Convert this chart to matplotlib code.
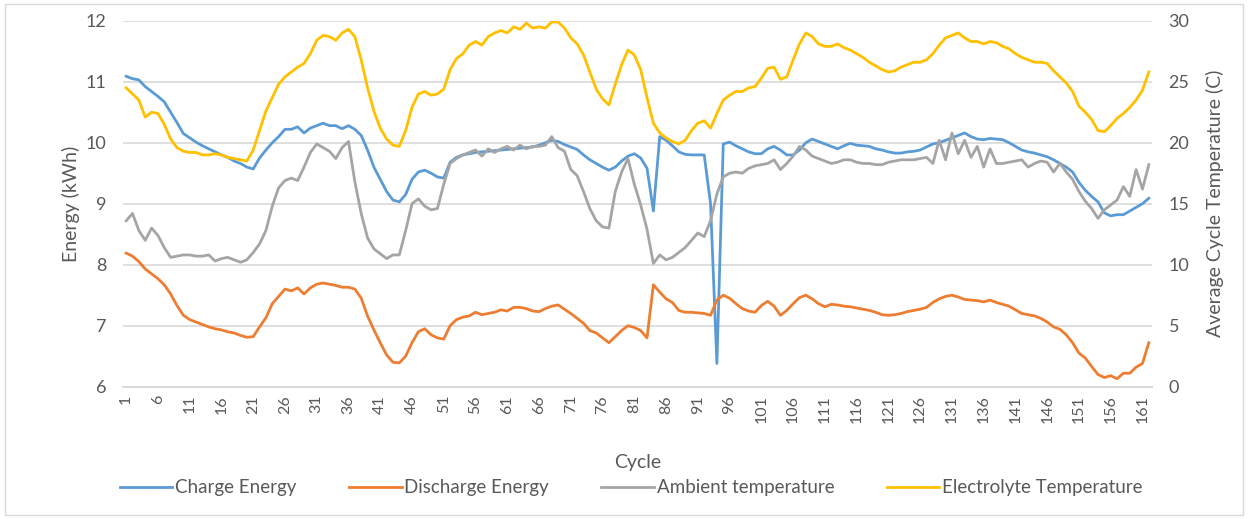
import numpy as np
import matplotlib
matplotlib.use("Agg")
from matplotlib import pyplot as plt
from matplotlib.patches import Rectangle

plt.rcParams['font.family'] = ['Lato', 'DejaVu Sans']

# per-cycle readings, cycles 1..162
charge_energy = [
    11.09, 11.05, 11.03, 10.92, 10.84, 10.76, 10.67, 10.50, 10.33, 10.15,
    10.08, 10.01, 9.95, 9.90, 9.85, 9.80, 9.76, 9.70, 9.66, 9.60,
    9.57, 9.75, 9.88, 10.00, 10.10, 10.22, 10.22, 10.26, 10.16, 10.24,
    10.28, 10.32, 10.28, 10.28, 10.23, 10.28, 10.22, 10.12, 9.88, 9.60,
    9.40, 9.20, 9.06, 9.03, 9.15, 9.40, 9.52, 9.55, 9.50, 9.44,
    9.42, 9.68, 9.76, 9.80, 9.82, 9.84, 9.85, 9.86, 9.87, 9.88,
    9.89, 9.90, 9.91, 9.92, 9.93, 9.96, 10.00, 10.04, 10.02, 9.97,
    9.93, 9.89, 9.80, 9.72, 9.66, 9.60, 9.55, 9.60, 9.70, 9.78,
    9.82, 9.75, 9.58, 8.88, 10.10, 10.04, 9.95, 9.85, 9.81, 9.80,
    9.80, 9.80, 9.00, 6.38, 9.98, 10.01, 9.95, 9.90, 9.85, 9.82,
    9.82, 9.90, 9.94, 9.88, 9.80, 9.80, 9.88, 10.00, 10.06, 10.02,
    9.98, 9.94, 9.90, 9.95, 9.99, 9.96, 9.95, 9.94, 9.90, 9.88,
    9.85, 9.83, 9.83, 9.85, 9.86, 9.88, 9.93, 9.98, 10.00, 10.04,
    10.08, 10.12, 10.16, 10.10, 10.06, 10.05, 10.07, 10.06, 10.05, 10.00,
    9.94, 9.88, 9.85, 9.83, 9.80, 9.77, 9.72, 9.66, 9.60, 9.52,
    9.35, 9.22, 9.12, 9.03, 8.85, 8.80, 8.82, 8.82, 8.88, 8.94,
    9.00, 9.09,
]

discharge_energy = [
    8.19, 8.14, 8.05, 7.93, 7.85, 7.77, 7.67, 7.52, 7.33, 7.17,
    7.10, 7.06, 7.02, 6.98, 6.95, 6.93, 6.90, 6.88, 6.84, 6.81,
    6.82, 6.98, 7.13, 7.36, 7.48, 7.60, 7.57, 7.62, 7.52, 7.62,
    7.68, 7.70, 7.68, 7.66, 7.63, 7.63, 7.60, 7.45, 7.16, 6.93,
    6.72, 6.52, 6.40, 6.39, 6.50, 6.72, 6.90, 6.95, 6.85, 6.80,
    6.78, 7.00, 7.10, 7.14, 7.16, 7.22, 7.18, 7.20, 7.22, 7.26,
    7.24, 7.30, 7.30, 7.28, 7.24, 7.23, 7.28, 7.32, 7.34, 7.27,
    7.20, 7.12, 7.04, 6.92, 6.88, 6.80, 6.72, 6.82, 6.92, 7.00,
    6.97, 6.92, 6.80, 7.67, 7.55, 7.44, 7.38, 7.25, 7.22, 7.22,
    7.21, 7.20, 7.17, 7.42, 7.50, 7.45, 7.36, 7.28, 7.24, 7.22,
    7.33, 7.40, 7.32, 7.17, 7.25, 7.36, 7.46, 7.50, 7.44, 7.36,
    7.31, 7.35, 7.34, 7.32, 7.31, 7.29, 7.27, 7.25, 7.22, 7.18,
    7.17, 7.18, 7.20, 7.23, 7.25, 7.27, 7.30, 7.38, 7.44, 7.48,
    7.50, 7.47, 7.43, 7.42, 7.41, 7.39, 7.42, 7.38, 7.35, 7.32,
    7.26, 7.20, 7.18, 7.16, 7.12, 7.06, 6.98, 6.94, 6.85, 6.72,
    6.55, 6.47, 6.33, 6.20, 6.15, 6.18, 6.13, 6.22, 6.22, 6.32,
    6.38, 6.72,
]

ambient_temp = [
    13.6, 14.2, 12.8, 12.0, 13.0, 12.4, 11.4, 10.6, 10.7, 10.8,
    10.8, 10.7, 10.7, 10.8, 10.3, 10.5, 10.6, 10.4, 10.2, 10.4,
    11.0, 11.7, 12.8, 14.8, 16.3, 16.9, 17.1, 16.9, 18.0, 19.2,
    19.9, 19.6, 19.3, 18.7, 19.6, 20.1, 16.8, 14.2, 12.2, 11.3,
    10.9, 10.5, 10.8, 10.8, 12.8, 15.0, 15.4, 14.8, 14.5, 14.6,
    16.6, 18.3, 18.7, 19.0, 19.2, 19.4, 18.9, 19.5, 19.2, 19.5,
    19.7, 19.4, 19.8, 19.5, 19.7, 19.7, 19.8, 20.5, 19.6, 19.3,
    17.8, 17.3, 16.0, 14.6, 13.6, 13.1, 13.0, 16.0, 17.6, 18.7,
    16.6, 14.9, 12.9, 10.1, 10.8, 10.4, 10.6, 11.0, 11.4, 12.0,
    12.6, 12.3, 13.6, 15.8, 17.2, 17.5, 17.6, 17.5, 17.9, 18.1,
    18.2, 18.3, 18.6, 17.8, 18.3, 18.9, 19.7, 19.4, 18.9, 18.7,
    18.5, 18.3, 18.4, 18.6, 18.6, 18.4, 18.3, 18.3, 18.2, 18.2,
    18.4, 18.5, 18.6, 18.6, 18.6, 18.7, 18.8, 18.3, 20.2, 18.6,
    20.8, 19.1, 20.2, 18.8, 19.7, 18.0, 19.5, 18.3, 18.3, 18.4,
    18.5, 18.6, 18.0, 18.3, 18.5, 18.4, 17.6, 18.3, 17.6, 17.0,
    16.0, 15.2, 14.6, 13.8, 14.5, 14.9, 15.3, 16.4, 15.6, 17.8,
    16.2, 18.2,
]

electrolyte_temp = [
    24.5, 24.0, 23.5, 22.1, 22.5, 22.4, 21.5, 20.3, 19.6, 19.3,
    19.2, 19.2, 19.0, 19.0, 19.1, 19.0, 18.8, 18.7, 18.6, 18.5,
    19.4, 21.0, 22.6, 23.7, 24.8, 25.4, 25.8, 26.2, 26.5, 27.3,
    28.4, 28.8, 28.7, 28.4, 29.0, 29.3, 28.7, 26.8, 24.5, 22.6,
    21.2, 20.3, 19.8, 19.7, 21.0, 22.9, 24.0, 24.2, 23.9, 24.0,
    24.4, 26.0, 26.9, 27.3, 28.0, 28.3, 28.0, 28.7, 29.0, 29.2,
    29.0, 29.5, 29.3, 29.8, 29.4, 29.5, 29.4, 29.9, 29.9, 29.4,
    28.6, 28.1, 27.2, 25.8, 24.4, 23.6, 23.1, 24.8, 26.4, 27.6,
    27.2, 26.0, 23.7, 21.6, 20.8, 20.4, 20.1, 19.9, 20.2, 21.0,
    21.6, 21.8, 21.2, 22.4, 23.5, 23.9, 24.2, 24.2, 24.5, 24.6,
    25.3, 26.1, 26.2, 25.2, 25.4, 26.8, 28.1, 29.0, 28.7, 28.1,
    27.9, 27.9, 28.1, 27.8, 27.6, 27.3, 27.0, 26.6, 26.3, 26.0,
    25.8, 25.9, 26.2, 26.4, 26.6, 26.6, 26.8, 27.3, 28.0, 28.6,
    28.8, 29.0, 28.6, 28.3, 28.3, 28.1, 28.3, 28.2, 27.9, 27.7,
    27.3, 27.0, 26.8, 26.6, 26.6, 26.5, 25.9, 25.4, 24.9, 24.2,
    23.0, 22.5, 21.9, 21.0, 20.9, 21.4, 22.0, 22.4, 22.9, 23.5,
    24.3, 25.8,
]

cycles = np.arange(1, len(charge_energy) + 1)
tick_cycles = cycles[::5]

BLUE = '#5B9BD5'
ORANGE = '#ED7D31'
GRAY = '#A5A5A5'
YELLOW = '#FFC000'
TEXT = '#595959'
GRID = '#D9D9D9'

fig = plt.figure(figsize=(12.5, 5.19), dpi=100)
ax = fig.add_axes([0.0984, 0.255, 0.8232, 0.705])
ax2 = ax.twinx()

lw = 2.0
l1, = ax.plot(cycles, charge_energy, color=BLUE, lw=lw, label='Charge Energy')
l2, = ax.plot(cycles, discharge_energy, color=ORANGE, lw=lw, label='Discharge Energy')
l3, = ax2.plot(cycles, ambient_temp, color=GRAY, lw=lw, label='Ambient temperature')
l4, = ax2.plot(cycles, electrolyte_temp, color=YELLOW, lw=lw, label='Electrolyte Temperature')

ax.set_xlim(0.5, len(cycles) + 0.5)
ax.set_ylim(6, 12)
ax2.set_ylim(0, 30)
ax.set_yticks(range(6, 13))
ax2.set_yticks(range(0, 31, 5))
ax.set_xticks(tick_cycles)
ax.set_xticklabels([str(c) for c in tick_cycles], rotation=90)

ax.yaxis.grid(True, color=GRID, lw=1.2)
ax.set_axisbelow(True)

for a in (ax, ax2):
    for side in ('top', 'left', 'right'):
        a.spines[side].set_visible(False)
    a.spines['bottom'].set_color(GRID)
    a.spines['bottom'].set_linewidth(1.2)
    a.tick_params(length=0, colors=TEXT, labelsize=13)
ax.tick_params(axis='x', labelsize=11.5, pad=6)
ax.tick_params(axis='y', pad=12)
ax2.tick_params(axis='y', pad=12)

ax.set_ylabel('Energy (kWh)', color=TEXT, fontsize=14, labelpad=4)
ax2.set_ylabel('Average Cycle Temperature (C)', color=TEXT, fontsize=14, labelpad=12)
ax.set_xlabel('Cycle', color=TEXT, fontsize=14, labelpad=22)

fig.legend(handles=[l1, l2, l3, l4], loc='center', bbox_to_anchor=(0.505, 0.06),
           ncol=4, frameon=False, fontsize=13.5, labelcolor=TEXT,
           handlelength=2.8, handletextpad=0.15, columnspacing=2.8)

# thin frame round the chart area
fig.add_artist(Rectangle((0.004, 0.008), 0.99, 0.985, transform=fig.transFigure,
                         fill=False, edgecolor='#D9D9D9', lw=1.0))

fig.savefig('out.png', dpi=100)
